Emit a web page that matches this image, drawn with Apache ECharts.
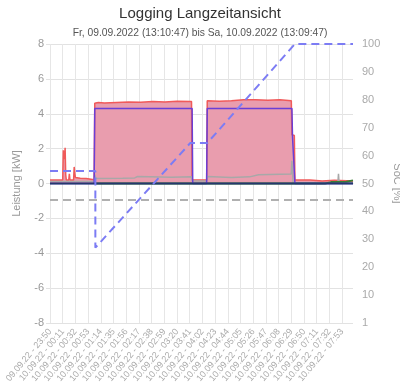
<!DOCTYPE html>
<html><head><meta charset="utf-8">
<script src="https://cdn.jsdelivr.net/npm/echarts@6/dist/echarts.min.js"></script>
<style>html,body{margin:0;padding:0;background:#fff}#c{width:400px;height:390px}</style>
</head><body><div id="c"></div>
<script>
// x = minutes after 09.09.22 23:50 (category index), 0..501
const tickLabels = ["09.09.22 - 23:50","10.09.22 - 00:11","10.09.22 - 00:32","10.09.22 - 00:53","10.09.22 - 01:14","10.09.22 - 01:35","10.09.22 - 01:56","10.09.22 - 02:17","10.09.22 - 02:38","10.09.22 - 02:59","10.09.22 - 03:20","10.09.22 - 03:41","10.09.22 - 04:02","10.09.22 - 04:23","10.09.22 - 04:44","10.09.22 - 05:05","10.09.22 - 05:26","10.09.22 - 05:47","10.09.22 - 06:08","10.09.22 - 06:29","10.09.22 - 06:50","10.09.22 - 07:11","10.09.22 - 07:32","10.09.22 - 07:53"];
const minuteCount = 502;
const tickStep = 21;

const redPower = [[0,0.2],[21,0.2],[22,1.9],[23,1.95],[24,1.4],[25,2.05],[26,0.5],[27,0.2],[31,0.2],[32,0.55],[33,0.2],[35,0.25],[39,0.2],[40,0.95],[41,0.6],[42,0.35],[50,0.3],[60,0.28],[73,0.22],[74,4.6],[80,4.65],[90,4.62],[110,4.65],[130,4.68],[150,4.66],[170,4.7],[190,4.68],[210,4.72],[234,4.7],[235,0.22],[259,0.2],[260,4.75],[280,4.72],[300,4.75],[320,4.8],[340,4.8],[360,4.78],[380,4.8],[399,4.75],[400,2.8],[404,2.75],[405,0.2],[430,0.2],[450,0.15],[470,0.18],[501,0.15]];
const purplePower = [[0,0],[73,0],[74,4.3],[235,4.3],[236,0],[259,0],[260,4.3],[400,4.3],[401,2.65],[404,2.6],[405,0],[501,0]];
const navyPower = [[0,0],[74,0],[405,0],[501,0]];
const greenPower = [[74,0],[455,0],[465,0.08],[490,0.1],[501,0.18]];
const grayPower = [[0,0.12],[73,0.12],[74,0.5],[76,0.28],[120,0.3],[140,0.32],[145,0.4],[200,0.36],[234,0.38],[235,0.15],[259,0.15],[260,0.4],[300,0.35],[330,0.38],[345,0.5],[399,0.55],[400,1.3],[401,1.3],[402,0.05],[476,0.05],[477,0.55],[478,0.05],[501,0.05]];
const socValues = [[0,54.5],[75,54.5],[75,27],[78,27],[232,64.5],[260,64.5],[405,100],[501,100]];
const limitLine = [[0,-0.95],[501,-0.95]];

const categories = [];
for (let i = 0; i < minuteCount; i++) categories.push(i % tickStep === 0 ? tickLabels[i / tickStep] : '');
const everyTick = (i) => i % tickStep === 0;

const chart = echarts.init(document.getElementById('c'), null, {renderer: 'canvas'});
const FONT = 'Liberation Sans, Arial, sans-serif';
const line = (name, data, color, width, extra) => Object.assign({
  name, type: 'line', data, symbol: 'none', silent: true, animation: false,
  lineStyle: {color, width}, itemStyle: {color}
}, extra || {});

chart.setOption({
  animation: false,
  textStyle: {fontFamily: FONT},
  title: {
    text: 'Logging Langzeitansicht',
    subtext: 'Fr, 09.09.2022 (13:10:47) bis Sa, 10.09.2022 (13:09:47)',
    left: 'center', top: 1, itemGap: 7,
    textStyle: {fontSize: 15, fontWeight: 'normal', color: '#333', fontFamily: FONT},
    subtextStyle: {fontSize: 10.3, color: '#555', fontFamily: FONT}
  },
  grid: {left: 50, right: 47, top: 44, bottom: 67, containLabel: false, outerBoundsMode: 'none'},
  xAxis: {
    type: 'category', data: categories, boundaryGap: false,
    axisLine: {show: true, lineStyle: {color: '#d8d8d8'}},
    axisTick: {show: true, interval: everyTick, length: 5, lineStyle: {color: '#e2e2e2'}},
    axisLabel: {interval: everyTick, rotate: 50, fontSize: 9, color: '#aaa', margin: 7, fontFamily: FONT, showMinLabel: true, hideOverlap: false},
    splitLine: {show: true, interval: everyTick, lineStyle: {color: '#e6e6e6'}}
  },
  yAxis: [{
    type: 'value', min: -8, max: 8, interval: 2,
    name: 'Leistung [kW]', nameLocation: 'middle', nameGap: 28,
    nameTextStyle: {color: '#999', fontSize: 11, fontFamily: FONT},
    axisLine: {show: false},
    axisTick: {show: true, length: 4, lineStyle: {color: '#e2e2e2'}},
    axisLabel: {color: '#999', fontSize: 11, margin: 6, fontFamily: FONT},
    splitLine: {show: true, lineStyle: {color: '#e2e2e2'}}
  }, {
    type: 'value', min: 0, max: 100, interval: 10, position: 'right',
    name: 'SoC [%]', nameLocation: 'middle', nameGap: 37, nameRotate: -90,
    nameTextStyle: {color: '#999', fontSize: 11, fontFamily: FONT},
    axisLine: {show: false}, axisTick: {show: false},
    axisLabel: {color: '#aaa', fontSize: 11, margin: 9, fontFamily: FONT, formatter: (v) => v === 0 ? '1' : String(v)},
    splitLine: {show: false}
  }],
  series: [
    line('Erzeugung', redPower, '#f05a5a', 1.5, {areaStyle: {color: '#e99dae', opacity: 1}, z: 2}),
    line('Verbrauch', grayPower, '#a8a8a8', 1.5, {z: 3}),
    line('Netz', greenPower, '#3a7d35', 2, {z: 4}),
    line('Batterie', purplePower, '#6a3fd6', 1.5, {z: 5}),
    line('Basis', navyPower, '#24386e', 2, {z: 6}),
    line('SoC', socValues, '#7c7cf4', 2, {yAxisIndex: 1, lineStyle: {color: '#7c7cf4', width: 2, type: [8, 5]}, z: 7}),
    line('Grenze', limitLine, '#b0b0b0', 2, {lineStyle: {color: '#b0b0b0', width: 2, type: [8, 5]}, z: 1})
  ]
});
</script></body></html>
